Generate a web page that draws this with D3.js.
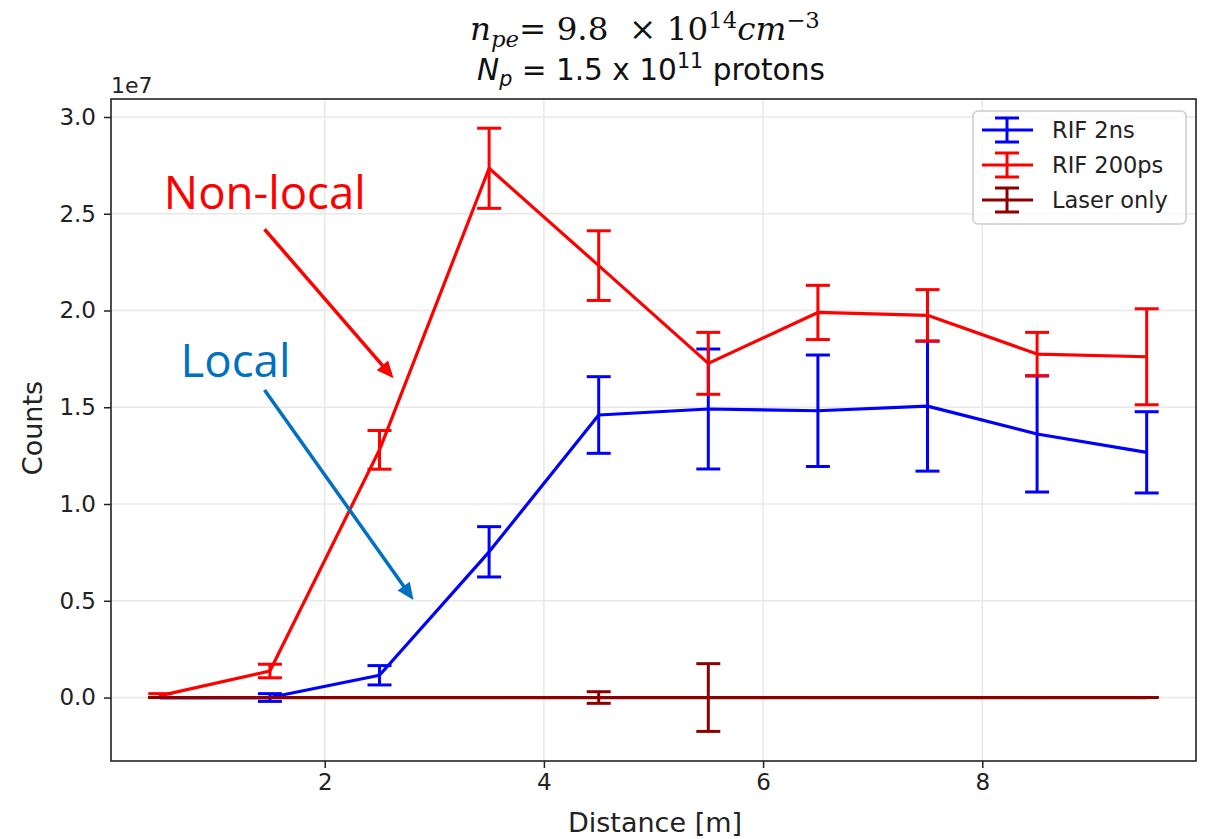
<!DOCTYPE html>
<html>
<head>
<meta charset="utf-8">
<script src="https://cdn.jsdelivr.net/npm/d3@7"></script>
<style>
  html, body { margin: 0; padding: 0; background: #fff; }
  svg { display: block; }
</style>
</head>
<body>
<svg id="chart" width="1208" height="839"></svg>
<script>
// ---------------- data ----------------
const distances = [0.5, 1.5, 2.5, 3.5, 4.5, 5.5, 6.5, 7.5, 8.5, 9.5];
const rif2nsValues   = [0.0, 0.0, 0.115, 0.753, 1.46, 1.491, 1.482, 1.506, 1.362, 1.267];
const rif2nsErrors   = [0.0, 0.02, 0.05, 0.13, 0.198, 0.31, 0.288, 0.336, 0.30, 0.21];
const rif200psValues = [0.01, 0.137, 1.28, 2.735, 2.232, 1.727, 1.99, 1.975, 1.775, 1.761];
const rif200psErrors = [0.01, 0.035, 0.10, 0.207, 0.18, 0.16, 0.14, 0.133, 0.112, 0.248];
const laserValues    = [0, 0, 0, 0, 0, 0, 0, 0, 0, 0];
const laserErrors    = [0, 0, 0, 0, 0.03, 0.175, 0, 0, 0, 0];
const seriesNames  = ["RIF 2ns", "RIF 200ps", "Laser only"];
const seriesColors = ["#0000ff", "#ff0000", "#8b0000"];
const xTicks = [2, 4, 6, 8];
const yTicks = [0.0, 0.5, 1.0, 1.5, 2.0, 2.5, 3.0];
const xDomain = [0.05, 9.95];
const yDomain = [-0.328, 3.093];
const annotationTexts = [
  {text: "Non-local", color: "#ff0000", x: 0.532, y: 2.523, width: 202},
  {text: "Local", color: "#0070c0", x: 0.684, y: 1.658, width: 110}
];
const annotationArrows = [
  {color: "#ff0000", x1: 1.451, y1: 2.42, x2: 2.628, y2: 1.65},
  {color: "#0070c0", x1: 1.451, y1: 1.589, x2: 2.81, y2: 0.504}
];

// ---------------- layout ----------------
const L = 111, R = 1196, T = 99, B = 761;
const svg = d3.select("#chart");
const x = d3.scaleLinear().domain(xDomain).range([L, R]);
const y = d3.scaleLinear().domain(yDomain).range([B, T]);
const tickFont = "DejaVu Sans";

// grid
const grid = svg.append("g");
grid.selectAll("line.gx").data(xTicks).enter().append("line")
  .attr("x1", d => x(d)).attr("x2", d => x(d)).attr("y1", T).attr("y2", B)
  .attr("stroke", "#e8e8e8").attr("stroke-width", 1.5);
grid.selectAll("line.gy").data(yTicks).enter().append("line")
  .attr("x1", L).attr("x2", R).attr("y1", d => y(d)).attr("y2", d => y(d))
  .attr("stroke", "#e8e8e8").attr("stroke-width", 1.5);

// axes
const xAxis = d3.axisBottom(x).tickValues(xTicks).tickFormat(d3.format("d")).tickSizeOuter(0).tickSize(7).tickPadding(6);
const yAxis = d3.axisLeft(y).tickValues(yTicks).tickFormat(d3.format(".1f")).tickSizeOuter(0).tickSize(7).tickPadding(8);
const gx = svg.append("g").attr("transform", `translate(0,${B})`).call(xAxis);
const gy = svg.append("g").attr("transform", `translate(${L},0)`).call(yAxis);
[gx, gy].forEach(g => {
  g.select(".domain").remove();
  g.selectAll(".tick line").attr("stroke", "#222").attr("stroke-width", 1.5);
  g.selectAll(".tick text").attr("font-family", tickFont).attr("font-size", 23).attr("fill", "#222");
});

// series
const seriesData = [
  {values: rif2nsValues, errors: rif2nsErrors},
  {values: rif200psValues, errors: rif200psErrors},
  {values: laserValues, errors: laserErrors}
];
const plot = svg.append("g");
const capHalf = 12;
seriesData.forEach((s, i) => {
  const pts = distances.map((d, j) => ({x: d, v: s.values[j], e: s.errors[j]}));
  const g = plot.append("g");
  g.append("path").datum(pts)
    .attr("d", d3.line().x(p => x(p.x)).y(p => y(p.v)))
    .attr("fill", "none").attr("stroke", seriesColors[i]).attr("stroke-width", 3.2)
    .attr("stroke-linejoin", "round");
  g.selectAll("line.eb").data(pts).enter().append("line")
    .attr("x1", p => x(p.x)).attr("x2", p => x(p.x))
    .attr("y1", p => y(p.v - p.e)).attr("y2", p => y(p.v + p.e))
    .attr("stroke", seriesColors[i]).attr("stroke-width", 3);
  ["lo", "hi"].forEach(side => {
    g.selectAll("line.cap" + side).data(pts).enter().append("line")
      .attr("x1", p => x(p.x) - capHalf).attr("x2", p => x(p.x) + capHalf)
      .attr("y1", p => y(side === "lo" ? p.v - p.e : p.v + p.e))
      .attr("y2", p => y(side === "lo" ? p.v - p.e : p.v + p.e))
      .attr("stroke", seriesColors[i]).attr("stroke-width", 3);
  });
});

// frame
svg.append("rect").attr("x", L).attr("y", T).attr("width", R - L).attr("height", B - T)
  .attr("fill", "none").attr("stroke", "#222").attr("stroke-width", 1.6);

// 1e7 offset label
svg.append("text").attr("x", L).attr("y", 93).attr("font-family", tickFont)
  .attr("font-size", 22).attr("fill", "#222").text("1e7");

// axis labels
svg.append("text").attr("x", 655).attr("y", 832).attr("text-anchor", "middle")
  .attr("font-family", tickFont).attr("font-size", 27).attr("fill", "#222").text("Distance [m]");
svg.append("text").attr("transform", "translate(42,428) rotate(-90)").attr("text-anchor", "middle")
  .attr("font-family", tickFont).attr("font-size", 27).attr("fill", "#222").text("Counts");

// legend
const lg = svg.append("g");
lg.append("rect").attr("x", 973).attr("y", 111).attr("width", 213).attr("height", 113)
  .attr("rx", 5).attr("fill", "#fff").attr("fill-opacity", 0.8)
  .attr("stroke", "#cccccc").attr("stroke-width", 1.5);
seriesNames.forEach((name, i) => {
  const cy = 130 + i * 35, cx = 1007;
  const c = seriesColors[i];
  lg.append("line").attr("x1", 982).attr("x2", 1033).attr("y1", cy).attr("y2", cy).attr("stroke", c).attr("stroke-width", 3.2);
  lg.append("line").attr("x1", cx).attr("x2", cx).attr("y1", cy - 12).attr("y2", cy + 12).attr("stroke", c).attr("stroke-width", 3);
  lg.append("line").attr("x1", cx - 12).attr("x2", cx + 12).attr("y1", cy - 12).attr("y2", cy - 12).attr("stroke", c).attr("stroke-width", 3);
  lg.append("line").attr("x1", cx - 12).attr("x2", cx + 12).attr("y1", cy + 12).attr("y2", cy + 12).attr("stroke", c).attr("stroke-width", 3);
  lg.append("text").attr("x", 1052).attr("y", cy + 8).attr("font-family", tickFont)
    .attr("font-size", 22.5).attr("fill", "#222").text(name);
});

// title line 1 (math style)
function buildTitle1(S) {
  const t = svg.append("text").attr("x", 470).attr("y", 40)
    .attr("font-family", "DejaVu Serif, Liberation Serif, serif").attr("font-size", S)
    .attr("fill", "#111").style("white-space", "pre");
  t.append("tspan").attr("font-style", "italic").text("n");
  t.append("tspan").attr("font-style", "italic").attr("font-size", S * 0.7).attr("dy", S * 0.22).text("pe");
  t.append("tspan").attr("dy", -S * 0.22).text("= 9.8  × 10");
  t.append("tspan").attr("font-size", S * 0.7).attr("dy", -S * 0.36).text("14");
  t.append("tspan").attr("font-style", "italic").attr("dy", S * 0.36).text("cm");
  t.append("tspan").attr("font-size", S * 0.7).attr("dy", -S * 0.36).text("−3");
  return t;
}
let t1 = buildTitle1(30);
let w1 = t1.node().getComputedTextLength();
t1.remove();
t1 = buildTitle1(30 * 350 / w1);

function buildTitle2(S) {
  const t = svg.append("text").attr("x", 477).attr("y", 80)
    .attr("font-family", "DejaVu Sans").attr("font-size", S).attr("fill", "#111")
    .style("white-space", "pre");
  t.append("tspan").attr("font-style", "italic").text("N");
  t.append("tspan").attr("font-style", "italic").attr("font-size", S * 0.7).attr("dy", S * 0.2).text("p");
  t.append("tspan").attr("dy", -S * 0.2).text(" = 1.5 x 10");
  t.append("tspan").attr("font-size", S * 0.7).attr("dy", -S * 0.4).text("11");
  t.append("tspan").attr("dy", S * 0.4).text(" protons");
  return t;
}
let t2 = buildTitle2(26);
let w2 = t2.node().getComputedTextLength();
t2.remove();
t2 = buildTitle2(26 * 348 / w2);

// annotations
annotationTexts.forEach(a => {
  let t = svg.append("text").attr("x", x(a.x)).attr("y", y(a.y))
    .attr("font-family", "Open Sans").attr("font-size", 40).attr("fill", a.color).text(a.text);
  const w = t.node().getComputedTextLength();
  t.attr("font-size", 40 * a.width / w);
});
annotationArrows.forEach(a => {
  const x1 = x(a.x1), y1 = y(a.y1), x2 = x(a.x2), y2 = y(a.y2);
  const dx = x2 - x1, dy = y2 - y1, len = Math.hypot(dx, dy);
  const ux = dx / len, uy = dy / len;
  const hl = 17, hw = 7.5;
  const bx = x2 - ux * hl, by = y2 - uy * hl;
  svg.append("line").attr("x1", x1).attr("y1", y1).attr("x2", bx + ux * 2).attr("y2", by + uy * 2)
    .attr("stroke", a.color).attr("stroke-width", 3.5);
  svg.append("polygon")
    .attr("points", [[x2, y2], [bx - uy * hw, by + ux * hw], [bx + uy * hw, by - ux * hw]].map(p => p.join(",")).join(" "))
    .attr("fill", a.color);
});
</script>
</body>
</html>
